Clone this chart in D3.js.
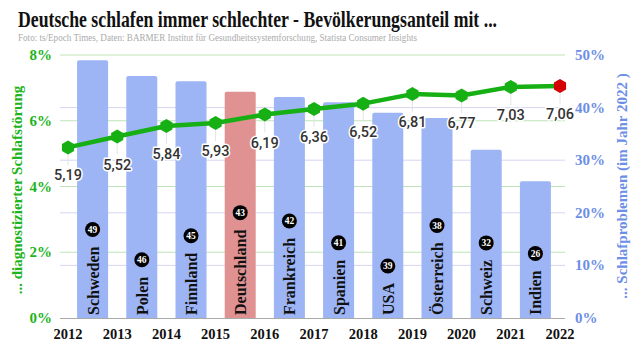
<!DOCTYPE html>
<html><head><meta charset="utf-8">
<script src="https://cdn.jsdelivr.net/npm/d3@7"></script>
<style>body{margin:0;background:#fff}svg{display:block}</style>
</head><body>
<script>
const years = [2012,2013,2014,2015,2016,2017,2018,2019,2020,2021,2022];
const rates = [5.19,5.52,5.84,5.93,6.19,6.36,6.52,6.81,6.77,7.03,7.06];
const countries = ["Schweden","Polen","Finnland","Deutschland","Frankreich","Spanien","USA","Österreich","Schweiz","Indien"];
const shares = [49,46,45,43,42,41,39,38,32,26];
const leftTicks = [0,2,4,6,8];
const rightTicks = [0,10,20,30,40,50];

const W=640,H=357;
const svg=d3.select("body").append("svg").attr("width",W).attr("height",H);
const serif="'Liberation Serif','DejaVu Serif',serif";
const green="#1db41d", blue="#6d8ee6";

const x=d3.scaleLinear().domain([2012,2022]).range([68,560]);
const yL=d3.scaleLinear().domain([0,8]).range([318,55]);
const yR=d3.scaleLinear().domain([0,50]).range([318,55]);
const gx0=60,gx1=565;

// title
svg.append("text").attr("x",18).attr("y",27).attr("font-family",serif).attr("font-weight","bold")
 .attr("font-size",23).attr("fill","#111").attr("textLength",479).attr("lengthAdjust","spacingAndGlyphs")
 .text("Deutsche schlafen immer schlechter - Bevölkerungsanteil mit ...");
svg.append("text").attr("x",18).attr("y",41).attr("font-family",serif)
 .attr("font-size",11).attr("fill","#ababab").attr("textLength",399).attr("lengthAdjust","spacingAndGlyphs")
 .text("Foto: ts/Epoch Times, Daten: BARMER Institut für Gesundheitssystemforschung, Statista Consumer Insights");

// grid
svg.append("g").selectAll("line").data(rightTicks.filter(d=>d>0&&d<50)).join("line")
 .attr("x1",gx0).attr("x2",gx1).attr("y1",d=>yR(d)).attr("y2",d=>yR(d)).attr("stroke","#d6d6f2").attr("stroke-width",1);
svg.append("g").selectAll("line").data(leftTicks.filter(d=>d>0)).join("line")
 .attr("x1",gx0).attr("x2",gx1).attr("y1",d=>yL(d)).attr("y2",d=>yL(d)).attr("stroke","#bfe3b8").attr("stroke-width",1);

// bars
const bw=31;
const bars=svg.append("g");
countries.forEach((c,i)=>{
  const cx=(x(years[i])+x(years[i+1]))/2;
  const y0=yR(shares[i]), y1=yR(0);
  const r=2;
  const p=d3.path();
  p.moveTo(cx-bw/2,y1); p.lineTo(cx-bw/2,y0+r); p.quadraticCurveTo(cx-bw/2,y0,cx-bw/2+r,y0);
  p.lineTo(cx+bw/2-r,y0); p.quadraticCurveTo(cx+bw/2,y0,cx+bw/2,y0+r); p.lineTo(cx+bw/2,y1); p.closePath();
  bars.append("path").attr("d",p.toString()).attr("fill",c==="Deutschland"?"#e09191":"#9db4f5");
  const t=bars.append("text").attr("transform",`translate(${cx+6},${y1-3}) rotate(-90)`)
   .attr("font-family",serif).attr("font-weight","bold").attr("font-size",16).attr("fill","#111").text(c);
  const len=t.node().getComputedTextLength();
  const by=y1-3-len-17;
  bars.append("circle").attr("cx",cx).attr("cy",by).attr("r",7.5).attr("fill","#000");
  bars.append("text").attr("x",cx).attr("y",by+3.2).attr("text-anchor","middle").attr("font-family",serif)
   .attr("font-weight","bold").attr("font-size",9.5).attr("fill","#fff").text(shares[i]);
});

// baseline
svg.append("line").attr("x1",gx0).attr("x2",gx1).attr("y1",yL(0)+0.5).attr("y2",yL(0)+0.5).attr("stroke","#aaa");

// axes labels
svg.append("g").selectAll("text").data(leftTicks).join("text")
 .attr("x",52).attr("y",d=>yL(d)+5).attr("text-anchor","end").attr("font-family",serif).attr("font-weight","bold")
 .attr("font-size",15).attr("fill",green).text(d=>d+"%");
svg.append("g").selectAll("text").data(rightTicks).join("text")
 .attr("x",575).attr("y",d=>yR(d)+5).attr("font-family",serif).attr("font-weight","bold")
 .attr("font-size",15).attr("fill",blue).text(d=>d+"%");
svg.append("g").selectAll("text").data(years).join("text")
 .attr("x",d=>x(d)).attr("y",338.5).attr("text-anchor","middle").attr("font-family",serif).attr("font-weight","bold")
 .attr("font-size",14.5).attr("fill","#111").text(d=>d);

svg.append("text").attr("transform","translate(22,190) rotate(-90)").attr("text-anchor","middle")
 .attr("font-family",serif).attr("font-weight","bold").attr("font-size",15).attr("fill",green)
 .text("... diagnostizierter Schlafstörung");
svg.append("text").attr("transform","translate(627,186) rotate(-90)").attr("text-anchor","middle")
 .attr("font-family",serif).attr("font-weight","bold").attr("font-size",15).attr("fill",blue)
 .text("... Schlafproblemen (im Jahr 2022 )");

// line
const pts=years.map((y,i)=>[x(y),yL(rates[i])]);
svg.append("g").selectAll("line").data(pts).join("line")
 .attr("x1",d=>d[0]).attr("x2",d=>d[0]).attr("y1",d=>d[1]+6).attr("y2",d=>d[1]+18).attr("stroke","#e4e4e4");
svg.append("path").attr("d",d3.line()(pts)).attr("fill","none").attr("stroke","#16b014").attr("stroke-width",4.5).attr("stroke-linejoin","round");
const hex=d3.range(6).map(k=>{const a=-Math.PI/2+k*Math.PI/3;return [Math.cos(a)*7,Math.sin(a)*7];});
const hexPath=d3.line().curve(d3.curveLinearClosed)(hex);
svg.append("g").selectAll("path").data(pts).join("path")
 .attr("transform",d=>`translate(${d[0]},${d[1]})`).attr("d",hexPath)
 .attr("fill",(d,i)=>i===pts.length-1?"#d50000":"#16b014");
svg.append("g").selectAll("text").data(pts).join("text")
 .attr("x",d=>d[0]).attr("y",d=>d[1]+33).attr("text-anchor","middle")
 .attr("font-family","Roboto,'Open Sans',sans-serif").attr("font-size",14.5).attr("font-weight",500)
 .attr("fill","#333").attr("stroke","#fff").attr("stroke-width",3).attr("stroke-linejoin","round").attr("paint-order","stroke")
 .text((d,i)=>d3.format(".2f")(rates[i]).replace(".",","));
</script>
</body></html>
